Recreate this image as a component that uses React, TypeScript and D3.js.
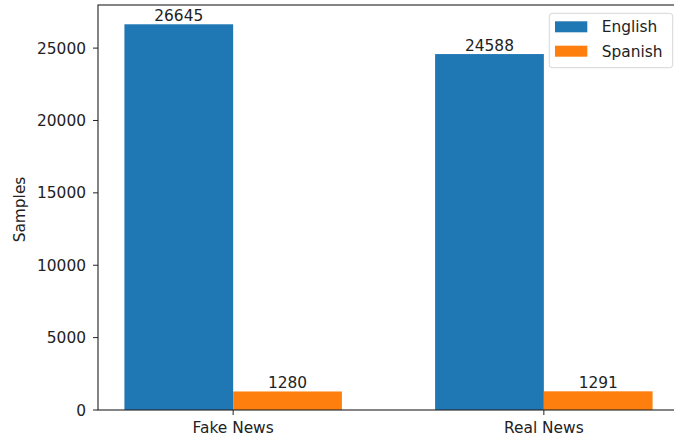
import React from "react";
import * as d3 from "d3";

// Data
const categories = ["Fake News", "Real News"];
const seriesNames = ["English", "Spanish"];
const englishValues = [26645, 24588];
const spanishValues = [1280, 1291];
const seriesColours = ["#1f77b4", "#ff7f0e"];
const yTicks = [0, 5000, 10000, 15000, 20000, 25000];

const W = 690, H = 440;
const margin = { left: 98, top: 5, right: 679, bottom: 410 };
const barWidth = 0.35;
const font = "'DejaVu Sans', sans-serif";
const fontSize = 15.4;
const textColour = "#222";

export default function App() {
  const series = [englishValues, spanishValues];
  const maxVal = d3.max(series.flat()) as number;

  // matplotlib style autoscale: 5% margin
  const x = d3.scaleLinear()
    .domain([-barWidth - 0.085, categories.length - 1 + barWidth + 0.085])
    .range([margin.left, margin.right]);
  const y = d3.scaleLinear()
    .domain([0, maxVal * 1.05])
    .range([margin.bottom, margin.top]);

  const offsets = [-barWidth / 2, barWidth / 2];
  const bw = x(barWidth) - x(0);

  // legend box
  const lgRight = margin.right - 6.3;
  const lgLeft = 549.3;
  const lgTop = 13.3;
  const lgBottom = 67.7;

  return (
    <div style={{ position: "fixed", left: 0, top: 0, width: 674, height: 440, overflow: "hidden", background: "#fff" }}>
      <svg width={W} height={H} style={{ display: "block" }} fontFamily={font}>
        {/* bars */}
        {series.map((vals, s) => (
          <g key={seriesNames[s]}>
            {vals.map((v, i) => {
              const cx = x(i + offsets[s]);
              return (
                <g key={categories[i]}>
                  <rect x={cx - bw / 2} y={y(v)} width={bw} height={y(0) - y(v)} fill={seriesColours[s]} />
                  <text x={cx} y={y(v) - 3} textAnchor="middle" fontSize={fontSize} fill={textColour}>{v}</text>
                </g>
              );
            })}
          </g>
        ))}

        {/* y axis */}
        {yTicks.map(t => (
          <g key={t}>
            <line x1={margin.left - 5} x2={margin.left} y1={y(t)} y2={y(t)} stroke="#222" strokeWidth={1} />
            <text x={margin.left - 12} y={y(t)} dy="0.36em" textAnchor="end" fontSize={fontSize} fill={textColour}>{t}</text>
          </g>
        ))}
        <text transform={`translate(19,${(margin.top + margin.bottom) / 2 + 2}) rotate(-90)`} dy="0.36em" textAnchor="middle" fontSize={fontSize} fill={textColour}>Samples</text>

        {/* x axis */}
        {categories.map((c, i) => (
          <g key={c}>
            <line x1={x(i)} x2={x(i)} y1={margin.bottom} y2={margin.bottom + 5} stroke="#222" strokeWidth={1} />
            <text x={x(i)} y={margin.bottom + 23} textAnchor="middle" fontSize={fontSize} fill={textColour}>{c}</text>
          </g>
        ))}

        {/* spines */}
        <rect x={margin.left} y={margin.top} width={margin.right - margin.left} height={margin.bottom - margin.top}
          fill="none" stroke="#222" strokeWidth={1.1} />

        {/* legend */}
        <rect x={lgLeft} y={lgTop} width={lgRight - lgLeft} height={lgBottom - lgTop} rx={3}
          fill="#fff" fillOpacity={0.8} stroke="#d6d6d6" strokeWidth={1} />
        {seriesNames.map((n, s) => {
          const cy = 26.8 + s * 24.4;
          return (
            <g key={n}>
              <rect x={555} y={cy - 5.5} width={32.3} height={11} fill={seriesColours[s]} />
              <text x={601.7} y={cy} dy="0.36em" fontSize={fontSize} fill={textColour}>{n}</text>
            </g>
          );
        })}
      </svg>
    </div>
  );
}
